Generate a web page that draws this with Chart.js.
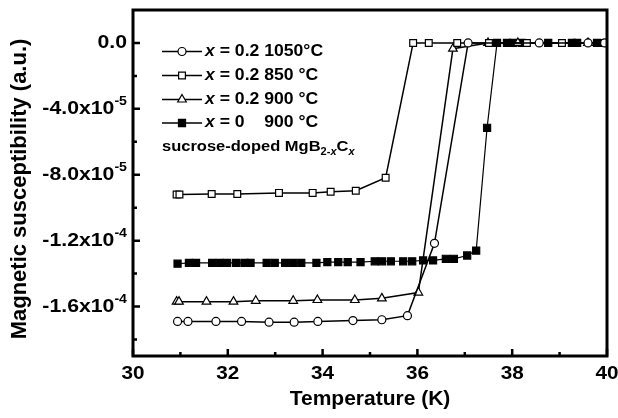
<!DOCTYPE html>
<html>
<head>
<meta charset="utf-8">
<script src="https://cdn.jsdelivr.net/npm/chart.js@4.4.1/dist/chart.umd.min.js"></script>
<style>
  html, body { margin: 0; padding: 0; background: #fff; }
  #wrap { width: 618px; height: 418px; }
</style>
</head>
<body>
<div id="wrap"><canvas id="chart" width="618" height="418"></canvas></div>
<script>
// x = 0.2, 1050 C (open circles)
const circleT = [30.94, 31.16, 31.75, 32.29, 32.87, 33.40, 33.90, 34.64, 35.25, 35.79, 36.36, 37.07, 38.57, 39.60, 39.95]
const circleV = [-1.69e-4, -1.69e-4, -1.69e-4, -1.69e-4, -1.695e-4, -1.695e-4, -1.69e-4, -1.685e-4, -1.68e-4, -1.655e-4, -1.216e-4, 0, 0, 0, 0]

// x = 0.2, 850 C (open squares)
const squareT = [30.92, 30.98, 31.66, 32.20, 33.08, 33.79, 34.17, 34.70, 35.33, 35.91, 36.24, 36.84, 37.51, 38.31, 39.05, 39.95]
const squareV = [-9.2e-5, -9.2e-5, -9.17e-5, -9.17e-5, -9.1e-5, -9.1e-5, -9.03e-5, -8.97e-5, -8.18e-5, 0, 0, 0, 0, 0, 0, 0]

// x = 0.2, 900 C (open triangles)
const triT = [30.92, 30.97, 31.55, 32.12, 32.59, 33.38, 33.89, 34.68, 35.25, 36.02, 36.75, 37.49, 38.12, 39.60]
const triV = [-1.57e-4, -1.57e-4, -1.57e-4, -1.57e-4, -1.565e-4, -1.565e-4, -1.56e-4, -1.56e-4, -1.55e-4, -1.515e-4, -3.5e-6, 0, 0, 0]

// x = 0, 900 C (filled squares)
const filledT = [30.94, 31.18, 31.33, 31.67, 31.83, 31.98, 32.17, 32.35, 32.48, 32.82, 32.99, 33.21, 33.38, 33.55, 33.87,
  34.10, 34.33, 34.53, 34.80, 35.10, 35.25, 35.44, 35.70, 35.89, 36.12, 36.33, 36.60, 36.77, 37.05, 37.24,
  37.47, 37.68, 37.89, 38.02, 38.20, 38.76, 39.26, 39.37, 39.79]
const filledV = [-1.34e-4, -1.335e-4, -1.335e-4, -1.335e-4, -1.335e-4, -1.335e-4, -1.335e-4, -1.335e-4, -1.335e-4, -1.335e-4,
  -1.335e-4, -1.335e-4, -1.335e-4, -1.335e-4, -1.335e-4, -1.33e-4, -1.33e-4, -1.33e-4, -1.33e-4, -1.325e-4,
  -1.325e-4, -1.325e-4, -1.325e-4, -1.325e-4, -1.32e-4, -1.32e-4, -1.31e-4, -1.31e-4, -1.29e-4, -1.26e-4,
  -5.15e-5, 0, 0, 0, 0, 0, 0, 0, 0]

// axis ticks and labels
const xTicks = [30, 32, 34, 36, 38, 40]
const xMinor = [31, 33, 35, 37, 39]
const yTicks = [0, -4e-5, -8e-5, -1.2e-4, -1.6e-4]
const yMinor = [-2e-5, -6e-5, -1e-4, -1.4e-4, -1.8e-4]
const yTickText = ['0.0', '-4.0x10', '-8.0x10', '-1.2x10', '-1.6x10']
const yTickExp = ['', '-5', '-5', '-4', '-4']

const legendNames = [' = 0.2 1050°C', ' = 0.2 850 °C', ' = 0.2 900 °C', ' = 0    900 °C']

const FONT = '"Liberation Sans", Arial, sans-serif'

const pts = (xs, ys) => xs.map((x, i) => ({x: x, y: ys[i]}))

const series = [
  {data: pts(circleT, circleV), pointStyle: 'circle', pointRadius: 4, pointBackgroundColor: '#fff', borderWidth: 1.5},
  {data: pts(squareT, squareV), pointStyle: 'rect', pointRadius: 4.8, pointBackgroundColor: '#fff', borderWidth: 1.5},
  {data: pts(triT, triV), pointStyle: 'triangle', pointRadius: 5, pointBackgroundColor: '#fff', borderWidth: 1.5},
  {data: pts(filledT, filledV), pointStyle: 'rect', pointRadius: 5, pointBackgroundColor: '#000', borderWidth: 1.2},
]

// text pieces drawn left to right, each with its own font and baseline shift;
// sx widens the glyphs a little (the bold face in the figure runs wide)
const drawRuns = (ctx, x, y, runs, sx) => {
  sx = sx || 1
  runs.forEach(r => {
    ctx.font = r.font
    ctx.save()
    ctx.translate(x, y + (r.dy || 0))
    ctx.scale(sx, 1)
    ctx.fillText(r.t, 0, 0)
    ctx.restore()
    x += ctx.measureText(r.t).width * sx
  })
  return x
}
const runsWidth = (ctx, runs, sx) => runs.reduce((w, r) => { ctx.font = r.font; return w + ctx.measureText(r.t).width * (sx || 1) }, 0)

const framePlugin = {
  id: 'frame',
  afterDraw(chart) {
    const ctx = chart.ctx
    const a = chart.chartArea
    const xs = chart.scales.x, ys = chart.scales.y
    ctx.save()
    ctx.strokeStyle = '#000'
    ctx.fillStyle = '#000'

    // box
    ctx.lineWidth = 3
    ctx.strokeRect(a.left, a.top, a.right - a.left, a.bottom - a.top)

    // inward ticks
    ctx.lineWidth = 2.5
    ctx.beginPath()
    xTicks.forEach(v => { const p = xs.getPixelForValue(v); ctx.moveTo(p, a.bottom); ctx.lineTo(p, a.bottom - 7) })
    xMinor.forEach(v => { const p = xs.getPixelForValue(v); ctx.moveTo(p, a.bottom); ctx.lineTo(p, a.bottom - 4) })
    yTicks.forEach(v => { const p = ys.getPixelForValue(v); ctx.moveTo(a.left, p); ctx.lineTo(a.left + 7, p) })
    yMinor.forEach(v => { const p = ys.getPixelForValue(v); ctx.moveTo(a.left, p); ctx.lineTo(a.left + 4, p) })
    ctx.stroke()

    // tick labels
    ctx.textBaseline = 'middle'
    ctx.textAlign = 'left'
    const tickFont = 'bold 18px ' + FONT
    xTicks.forEach(v => {
      const runs = [{t: String(v), font: tickFont}]
      const w = runsWidth(ctx, runs, 1.15)
      drawRuns(ctx, xs.getPixelForValue(v) - w / 2, a.bottom + 18, runs, 1.15)
    })
    yTicks.forEach((v, i) => {
      const runs = [{t: yTickText[i], font: tickFont}]
      if (yTickExp[i]) runs.push({t: yTickExp[i], font: 'bold 12px ' + FONT, dy: -7})
      const w = runsWidth(ctx, runs, 1.18)
      drawRuns(ctx, a.left - 6 - w, ys.getPixelForValue(v), runs, 1.18)
    })

    // axis titles
    ctx.textAlign = 'center'
    ctx.font = 'bold 21px ' + FONT
    ctx.fillText('Temperature (K)', (a.left + a.right) / 2, a.bottom + 43)
    ctx.save()
    ctx.translate(20, 189)
    ctx.rotate(-Math.PI / 2)
    ctx.font = 'bold 22px ' + FONT
    ctx.fillText('Magnetic susceptibility (a.u.)', 0, 0)
    ctx.restore()

    // legend
    ctx.textAlign = 'left'
    const rows = [51.5, 75.5, 99.5, 123]
    series.forEach((s, i) => {
      const y = rows[i]
      ctx.lineWidth = 1.5
      ctx.beginPath()
      ctx.moveTo(162, y)
      ctx.lineTo(202, y)
      ctx.stroke()
      ctx.fillStyle = s.pointBackgroundColor
      ctx.lineWidth = 1.2
      Chart.helpers.drawPoint(ctx, {pointStyle: s.pointStyle, radius: s.pointRadius, rotation: 0, borderWidth: 1.2}, 182, y)
      ctx.fillStyle = '#000'
      drawRuns(ctx, 205, y, [
        {t: 'x', font: 'italic bold 16px ' + FONT},
        {t: legendNames[i], font: 'bold 16px ' + FONT},
      ], 1.1)
    })
    drawRuns(ctx, 162, 147, [
      {t: 'sucrose-doped MgB', font: 'bold 15px ' + FONT},
      {t: '2-', font: 'bold 10px ' + FONT, dy: 5},
      {t: 'x', font: 'italic bold 10px ' + FONT, dy: 5},
      {t: 'C', font: 'bold 15px ' + FONT},
      {t: 'x', font: 'italic bold 10px ' + FONT, dy: 5},
    ], 1.1)
    ctx.restore()
  }
}

new Chart(document.getElementById('chart'), {
  type: 'line',
  data: {
    datasets: series.map(s => ({
      data: s.data,
      borderColor: '#000',
      borderWidth: s.borderWidth,
      pointStyle: s.pointStyle,
      pointRadius: s.pointRadius,
      pointBackgroundColor: s.pointBackgroundColor,
      pointBorderColor: '#000',
      pointBorderWidth: 1.2,
      tension: 0,
      fill: false,
    }))
  },
  options: {
    responsive: false,
    animation: false,
    devicePixelRatio: 1,
    layout: {padding: {left: 133, right: 11, top: 10, bottom: 62}},
    plugins: {legend: {display: false}, tooltip: {enabled: false}},
    scales: {
      x: {type: 'linear', min: 30, max: 40, display: false},
      y: {type: 'linear', min: -1.9e-4, max: 2e-5, display: false},
    }
  },
  plugins: [framePlugin]
})
</script>
</body>
</html>
